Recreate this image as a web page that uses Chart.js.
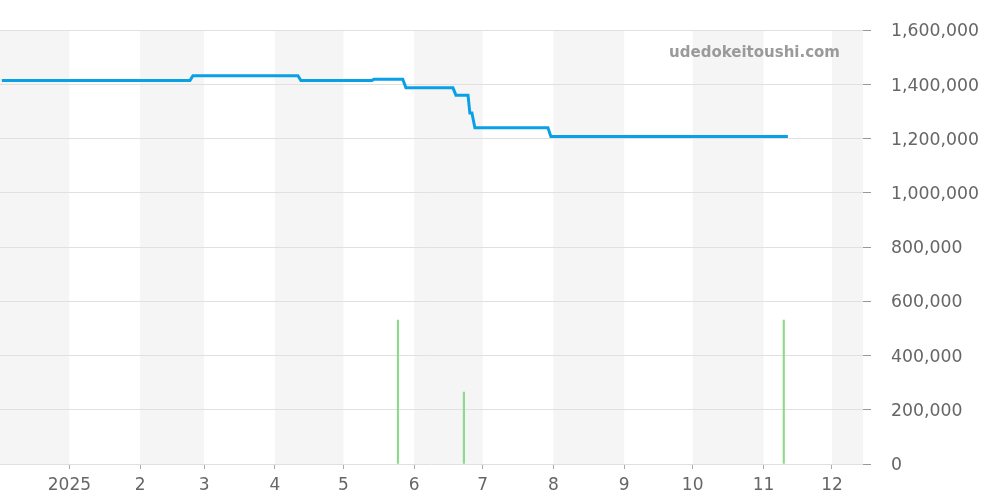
<!DOCTYPE html>
<html lang="ja">
<head>
    <meta charset="UTF-8">
    <title>Price chart</title>
    <script src="https://cdn.jsdelivr.net/npm/chart.js"></script>
    <style>
        html, body { margin: 0; padding: 0; background: #fff; }
        .chart-container { width: 1000px; height: 500px; }
    </style>
</head>
<body>
<div class="chart-container">
    <canvas id="priceChart"></canvas>
</div>

<script>
    // x values are days counted from 2025-01-01
    const monthStarts = [0, 31, 59, 90, 120, 151, 181, 212, 243, 273, 304, 334];
    const monthLabels = ['2025', '2', '3', '4', '5', '6', '7', '8', '9', '10', '11', '12'];
    // shaded month bands (start day, end day): Dec 2024, Feb, Apr, Jun, Aug, Oct, Dec 2025
    const bandStarts = [-31, 31, 90, 151, 212, 273, 334];
    const bandEnds = [0, 59, 120, 181, 243, 304, 365];

    const priceDays = [-29.6, 52.8, 54.1, 100.1, 101.4, 132.5, 133.4, 146.0, 147.4, 168.0, 169.3,
        174.6, 175.4, 176.3, 177.6, 209.6, 210.9, 314.7];
    const priceValues = [1415000, 1415000, 1433000, 1433000, 1415000, 1415000, 1420000, 1420000, 1388000,
        1388000, 1361000, 1361000, 1295000, 1295000, 1241000, 1241000, 1208000, 1208000];

    const volumeDays = [143.9, 172.8, 312.9];
    const volumeValues = [531000, 265000, 531000];

    const yMax = 1600000;
    const yStep = 200000;

    // Фон: чередующиеся полосы по месяцам
    const bandsPlugin = {
        id: 'bands',
        beforeDraw(chart) {
            const ctx = chart.ctx;
            const area = chart.chartArea;
            const x = chart.scales.x;
            ctx.save();
            ctx.fillStyle = '#f5f5f5';
            for (let i = 0; i < bandStarts.length; i++) {
                const x0 = Math.max(area.left, x.getPixelForValue(bandStarts[i]));
                const x1 = Math.min(area.right, x.getPixelForValue(bandEnds[i]));
                if (x1 > x0) ctx.fillRect(x0, area.top, x1 - x0, area.bottom - area.top);
            }
            ctx.restore();
        },
        afterDraw(chart) {
            const ctx = chart.ctx;
            const area = chart.chartArea;
            ctx.save();
            ctx.font = 'bold 15px "DejaVu Sans"';
            ctx.fillStyle = '#9a9a9a';
            ctx.textAlign = 'right';
            ctx.textBaseline = 'middle';
            ctx.fillText('udedokeitoushi.com', area.right - 23, area.top + 23);
            ctx.restore();
        }
    };

    const priceData = priceDays.map((d, i) => ({ x: d, y: priceValues[i] }));
    const volumeData = volumeDays.map((d, i) => ({ x: d, y: volumeValues[i] }));

    new Chart(document.getElementById('priceChart').getContext('2d'), {
        type: 'bar',
        data: {
            datasets: [{
                type: 'line',
                data: priceData,
                borderColor: '#0aa0e6',
                borderWidth: 3,
                pointRadius: 0,
                fill: false,
                tension: 0
            }, {
                type: 'bar',
                data: volumeData,
                backgroundColor: '#8fd98f',
                barThickness: 1.5,
                grouped: false
            }]
        },
        options: {
            responsive: true,
            maintainAspectRatio: false,
            animation: false,
            layout: { padding: { top: 30, left: 0, right: 0, bottom: 0 } },
            plugins: {
                legend: { display: false },
                tooltip: { enabled: false }
            },
            scales: {
                x: {
                    type: 'linear',
                    offset: false,
                    min: -30.4,
                    max: 347.6,
                    afterBuildTicks(scale) {
                        scale.ticks = monthStarts.map(v => ({ value: v }));
                    },
                    afterFit(scale) { scale.height = 36; },
                    ticks: {
                        autoSkip: false,
                        maxRotation: 0,
                        padding: 6,
                        color: '#666',
                        font: { family: 'DejaVu Sans', size: 17 },
                        callback(value) {
                            const i = monthStarts.indexOf(value);
                            return i >= 0 ? monthLabels[i] : '';
                        }
                    },
                    grid: {
                        offset: false,
                        drawOnChartArea: false,
                        tickLength: 5,
                        tickColor: '#aaa'
                    },
                    border: { display: false }
                },
                y: {
                    position: 'right',
                    min: 0,
                    max: yMax,
                    afterFit(scale) { scale.width = 137; },
                    ticks: {
                        stepSize: yStep,
                        padding: 20,
                        labelOffset: 1.5,
                        color: '#666',
                        font: { family: 'DejaVu Sans', size: 17.3 },
                        callback: v => v.toLocaleString('en-US')
                    },
                    grid: {
                        color: '#e0e0e0',
                        tickColor: '#999',
                        tickLength: 8
                    },
                    border: { display: false }
                }
            }
        },
        plugins: [bandsPlugin]
    });
</script>
</body>
</html>
